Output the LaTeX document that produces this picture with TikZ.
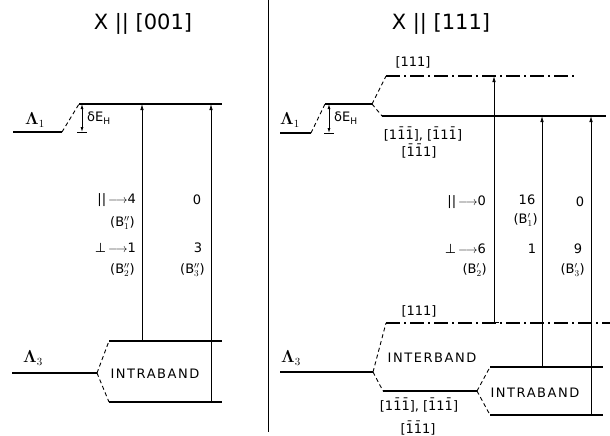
\documentclass[tikz,border=0pt]{standalone}
\usepackage{amsmath,amssymb}
\usepackage{fontspec}
\setmainfont{DejaVu Sans}
\usetikzlibrary{arrows.meta}
\tikzset{
  lvl/.style   ={line width=1.2pt},
  brk/.style   ={line width=0.9pt, dash pattern=on 4pt off 3pt},
  dlvl/.style  ={line width=1.2pt, dash pattern=on 14pt off 4pt on 2pt off 4pt},
  trans/.style ={-{Latex[length=6pt,width=3.5pt]}, line width=0.8pt},
  gap/.style   ={{Latex[length=5pt,width=3pt]}-{Latex[length=5pt,width=3pt]}, line width=0.8pt},
  lbl/.style   ={font=\fontsize{13}{15}\selectfont, inner sep=1pt},
  lam/.style   ={font=\fontsize{16}{18}\selectfont, inner sep=1pt},
  band/.style  ={font=\fontsize{13}{15}\selectfont\addfontfeature{LetterSpace=12}, inner sep=1pt},
  ttl/.style   ={font=\fontsize{21}{25}\selectfont}
}
\newcommand{\bo}{\={1}}

\begin{document}
\begin{tikzpicture}[x=1pt,y=-1pt]
\useasboundingbox (0,0) rectangle (610,436);

% titles and divider
\node[ttl] (tl) at (143,24) {X || [001]};
\node[ttl] (tr) at (441,24) {X || [111]};
\coordinate (dtop) at (268,0);
\coordinate (dbot) at (268,432);
\draw[line width=0.8pt] (dtop) -- (dbot);

% ---------- left panel
\coordinate (Lg1a) at (13,132);  \coordinate (Lg1b) at (62,132);
\coordinate (Lx1a) at (79,104);  \coordinate (Lx1b) at (222,104);
\coordinate (Lg3a) at (12,373);  \coordinate (Lg3b) at (97,373);
\coordinate (Ltpa) at (109,341); \coordinate (Ltpb) at (222,341);
\coordinate (Lbta) at (109,402); \coordinate (Lbtb) at (222,402);
\coordinate (Ldel) at (82,0);
\coordinate (Lc1) at (142,0);
\coordinate (Lc2) at (211,0);

\draw[lvl] (Lg1a) -- (Lg1b);
\draw[brk] (Lg1b) -- (Lx1a);
\draw[lvl] (Lx1a) -- (Lx1b);
\draw[gap] (Ldel |- Lg1a) -- (Ldel |- Lx1a);
\draw[line width=0.8pt] ([xshift=-5pt]Ldel |- Lg1a) -- ([xshift=5pt]Ldel |- Lg1a);

\draw[lvl] (Lg3a) -- (Lg3b);
\draw[brk] (Lg3b) -- (Ltpa);
\draw[brk] (Lg3b) -- (Lbta);
\draw[lvl] (Ltpa) -- (Ltpb);
\draw[lvl] (Lbta) -- (Lbtb);

\draw[trans] (Lc1 |- Ltpa) -- (Lc1 |- Lx1a);
\draw[trans] (Lc2 |- Lbta) -- (Lc2 |- Lx1a);

\node[lam] (Llam1) at (35,120) {$\boldsymbol{\Lambda}_1$};
\node[lam] (Llam3) at (33,358) {$\boldsymbol{\Lambda}_3$};
\node[lbl, anchor=west] (Lde) at (86,118) {δE$_\mathrm{H}$};
\node[band] (Lintra) at (155,374) {INTRABAND};

\node[lbl, anchor=east] (Lpar)  at (137,200) {||$\,\longrightarrow$4};
\node[lbl, anchor=east] (Lb1)   at (136,223) {(B$''_1$)};
\node[lbl, anchor=east] (Lperp) at (137,248) {⊥$\,\longrightarrow$1};
\node[lbl, anchor=east] (Lb2)   at (136,270) {(B$''_2$)};
\node[lbl] (Lz)  at (197,200) {0};
\node[lbl] (Lth) at (198,248) {3};
\node[lbl, anchor=east] (Lb3) at (206,270) {(B$''_3$)};

% ---------- right panel
\coordinate (Rg1a) at (280,133); \coordinate (Rg1b) at (311,133);
\coordinate (Rx1a) at (325,104); \coordinate (Rx1b) at (372,104);
\coordinate (Rupa) at (386,76);  \coordinate (Rupb) at (575,76);
\coordinate (Rloa) at (382,116); \coordinate (Rlob) at (606,116);
\coordinate (Rg3a) at (280,372); \coordinate (Rg3b) at (373,372);
\coordinate (Rira) at (386,323); \coordinate (Rirb) at (610,323);
\coordinate (Rilo) at (383,391); \coordinate (Rilb) at (477,391);
\coordinate (Rtpa) at (490,367); \coordinate (Rtpb) at (603,367);
\coordinate (Rbta) at (490,415); \coordinate (Rbtb) at (603,415);
\coordinate (Rdel) at (329,0);
\coordinate (Rc1) at (494,0);
\coordinate (Rc2) at (542,0);
\coordinate (Rc3) at (591,0);

\draw[lvl] (Rg1a) -- (Rg1b);
\draw[brk] (Rg1b) -- (Rx1a);
\draw[lvl] (Rx1a) -- (Rx1b);
\draw[brk] (Rx1b) -- (Rupa);
\draw[dlvl] (Rupa) -- (Rupb);
\draw[brk] (Rx1b) -- (Rloa);
\draw[lvl] (Rloa) -- (Rlob);
\draw[gap] (Rdel |- Rg1a) -- (Rdel |- Rx1a);
\draw[line width=0.8pt] ([xshift=-5pt]Rdel |- Rg1a) -- ([xshift=5pt]Rdel |- Rg1a);

\draw[lvl] (Rg3a) -- (Rg3b);
\draw[brk] (Rg3b) -- (Rira);
\draw[dlvl] (Rira) -- (Rirb);
\draw[brk] (Rg3b) -- (Rilo);
\draw[lvl] (Rilo) -- (Rilb);
\draw[brk] (Rilb) -- (Rtpa);
\draw[brk] (Rilb) -- (Rbta);
\draw[lvl] (Rtpa) -- (Rtpb);
\draw[lvl] (Rbta) -- (Rbtb);

\draw[trans, {Bar[width=9pt]}-{Latex[length=6pt,width=3.5pt]}] (Rc1 |- Rira) -- (Rc1 |- Rupa);
\draw[trans] (Rc2 |- Rtpa) -- (Rc2 |- Rloa);
\draw[trans] (Rc3 |- Rbta) -- (Rc3 |- Rloa);

\node[lam] (Rlam1) at (290,120) {$\boldsymbol{\Lambda}_1$};
\node[lam] (Rlam3) at (291,358) {$\boldsymbol{\Lambda}_3$};
\node[lbl, anchor=west] (Rde) at (333,118) {δE$_\mathrm{H}$};
\node[lbl] (Rup)  at (413,62)  {[111]};
\node[lbl] (Rlo1) at (423,134) {[1\bo\bo], [\bo1\bo]};
\node[lbl] (Rlo2) at (419,151) {[\bo\bo1]};
\node[lbl] (Rir)  at (419,311) {[111]};
\node[band] (Rinter) at (432,358) {INTERBAND};
\node[band] (Rintra) at (535,393) {INTRABAND};
\node[lbl] (Rbo1) at (419,405) {[1\bo\bo], [\bo1\bo]};
\node[lbl] (Rbo2) at (418,428) {[\bo\bo1]};

\node[lbl, anchor=east] (Rpar)  at (487,202) {||$\,\longrightarrow$0};
\node[lbl, anchor=east] (Rperp) at (487,249) {⊥$\,\longrightarrow$6};
\node[lbl, anchor=east] (Rb2)   at (488,270) {(B$'_2$)};
\node[lbl] (Rsix) at (527,200) {16};
\node[lbl, anchor=east] (Rb1) at (539,220) {(B$'_1$)};
\node[lbl] (Rone) at (532,249) {1};
\node[lbl] (Rz)   at (580,202) {0};
\node[lbl] (Rni)  at (578,249) {9};
\node[lbl, anchor=east] (Rb3) at (586,270) {(B$'_3$)};
\end{tikzpicture}
\end{document}
